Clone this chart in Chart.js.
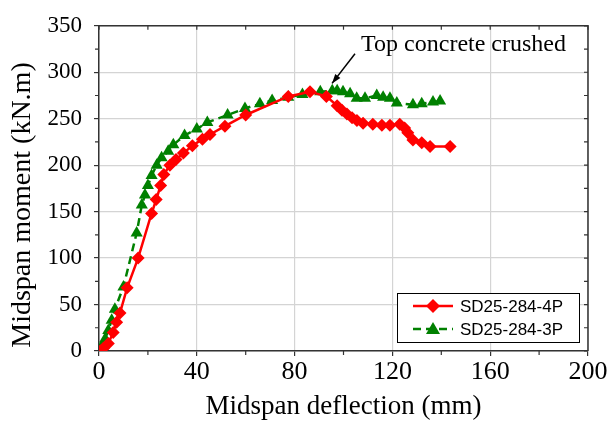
<!DOCTYPE html>
<html lang="en">
<head>
    <meta charset="UTF-8">
    <title>Midspan moment vs deflection</title>
    <script src="https://cdn.jsdelivr.net/npm/chart.js"></script>
    <style>
        body { margin: 0; background: #fff; }
        #wrap { width: 609px; height: 425px; }
    </style>
</head>
<body>
    <div id="wrap">
        <canvas id="myChart" width="609" height="425"></canvas>
    </div>
    <script>
        // SD25-284-4P (red, diamonds)
        let defl4P = [0.5, 1.8, 3.8, 5.8, 7.2, 8.6, 11.5, 16, 21.5, 23.4, 25.2, 26.5, 29, 31.5, 34.5, 38.2, 42.3, 45.4, 51.5, 60, 77.4, 86.3,
            93, 97.4, 99.4, 101.4, 103.5, 105.5, 108, 112, 115.7, 119, 123, 125, 126.3, 128.4, 132, 135.4, 143.6];
        let moment4P = [0, 3, 8, 20, 31, 41, 68, 100, 148, 163, 178, 190, 200, 206, 213, 221, 228, 233, 242, 254, 274, 279,
            274, 264, 259, 255, 251, 248, 245, 244, 243, 243, 244, 240, 235, 227, 224, 220, 220];

        // SD25-284-3P (green, triangles)
        let defl3P = [0.5, 1.1, 2.5, 3.8, 5.2, 6.5, 10, 15.4, 17.5, 18.8, 20, 21.5, 23.6, 25.6, 28.3, 30.4, 35, 40, 44.3, 52.6, 59.7, 65.8, 70.8, 77.4, 83.2,
            90.5, 95.4, 97.4, 99.8, 102.7, 105.4, 108.8, 113.6, 116.2, 119, 121.8, 128.4, 132, 136.6, 139.5];
        let moment3P = [1, 5, 13, 22, 33, 45, 69, 127, 157, 168, 178, 189, 200, 208, 215, 222, 232, 239, 246, 254, 261, 266, 269.5, 273, 276,
            279, 280, 280, 279, 277, 272, 272, 275, 273, 272, 267, 265, 266, 268, 269];

        let seriesNames = ["SD25-284-4P", "SD25-284-3P"];
        let xTicks = [0, 40, 80, 120, 160, 200];
        let yTicks = [0, 50, 100, 150, 200, 250, 300, 350];
        let xMinor = [20, 60, 100, 140, 180];
        let yMinor = [25, 75, 125, 175, 225, 275, 325];
        let xTitle = "Midspan deflection (mm)";
        let yTitle = "Midspan moment (kN.m)";
        let note = "Top concrete crushed";
        let noteAt = [107.2, 323];
        let arrowFrom = [104.7, 320];
        let arrowTo = [95.3, 288];

        const serif = "'Liberation Serif', 'Times New Roman', serif";
        const sans = "'Liberation Sans', Arial, sans-serif";
        const frameColor = '#333';

        function toPoints(xs, ys) {
            return xs.map((x, i) => ({ x: x, y: ys[i] }));
        }

        // frame on top/right, mirrored and minor ticks, y title, annotation, legend
        const extras = {
            id: 'extras',
            afterDatasetsDraw(chart) {
                const c = chart.ctx;
                const a = chart.chartArea;
                const xs = chart.scales.x, ys = chart.scales.y;
                c.save();
                c.strokeStyle = frameColor;
                c.lineWidth = 1.5;
                c.beginPath();
                c.moveTo(a.left, a.top); c.lineTo(a.right, a.top); c.lineTo(a.right, a.bottom);
                c.stroke();

                c.lineWidth = 1.2;
                c.beginPath();
                xTicks.concat(xMinor).forEach(v => {
                    const px = xs.getPixelForValue(v);
                    c.moveTo(px, a.top); c.lineTo(px, a.top + 4);
                });
                xMinor.forEach(v => {
                    const px = xs.getPixelForValue(v);
                    c.moveTo(px, a.bottom); c.lineTo(px, a.bottom + 4);
                });
                yTicks.concat(yMinor).forEach(v => {
                    const py = ys.getPixelForValue(v);
                    c.moveTo(a.right, py); c.lineTo(a.right - 4, py);
                });
                yMinor.forEach(v => {
                    const py = ys.getPixelForValue(v);
                    c.moveTo(a.left, py); c.lineTo(a.left - 4, py);
                });
                c.stroke();

                // y axis title
                c.save();
                c.translate(23, 205);
                c.rotate(-Math.PI / 2);
                c.fillStyle = '#000';
                c.font = '28px ' + serif;
                c.textAlign = 'center';
                c.textBaseline = 'middle';
                c.fillText(yTitle, 0, 0);
                c.restore();

                // annotation
                c.fillStyle = '#000';
                c.font = '24px ' + serif;
                c.textBaseline = 'alphabetic';
                c.textAlign = 'left';
                c.fillText(note, xs.getPixelForValue(noteAt[0]), ys.getPixelForValue(noteAt[1]));
                const tx = xs.getPixelForValue(arrowFrom[0]), ty = ys.getPixelForValue(arrowFrom[1]);
                const hx = xs.getPixelForValue(arrowTo[0]), hy = ys.getPixelForValue(arrowTo[1]);
                c.strokeStyle = '#000';
                c.lineWidth = 1.5;
                c.beginPath(); c.moveTo(tx, ty); c.lineTo(hx, hy); c.stroke();
                const ang = Math.atan2(hy - ty, hx - tx);
                c.beginPath();
                c.moveTo(hx, hy);
                c.lineTo(hx - 10 * Math.cos(ang - 0.33), hy - 10 * Math.sin(ang - 0.33));
                c.lineTo(hx - 10 * Math.cos(ang + 0.33), hy - 10 * Math.sin(ang + 0.33));
                c.closePath();
                c.fill();

                // legend
                const bw = 182, bh = 49;
                const bx = a.right - 9 - bw, by = a.bottom - 9 - bh;
                c.fillStyle = '#fff';
                c.fillRect(bx, by, bw, bh);
                c.strokeStyle = '#000';
                c.lineWidth = 1;
                c.strokeRect(bx + 0.5, by + 0.5, bw, bh);
                chart.data.datasets.forEach((ds, i) => {
                    const ry = by + 13 + i * 23;
                    c.strokeStyle = ds.borderColor;
                    c.lineWidth = 2.5;
                    c.setLineDash(ds.borderDash || []);
                    c.beginPath(); c.moveTo(bx + 16, ry); c.lineTo(bx + 56, ry); c.stroke();
                    c.setLineDash([]);
                    c.fillStyle = ds.pointBackgroundColor;
                    c.beginPath();
                    if (ds.pointStyle === 'rectRot') {
                        c.moveTo(bx + 36, ry - 7); c.lineTo(bx + 43, ry); c.lineTo(bx + 36, ry + 7); c.lineTo(bx + 29, ry);
                    } else {
                        c.moveTo(bx + 36, ry - 7); c.lineTo(bx + 43, ry + 5); c.lineTo(bx + 29, ry + 5);
                    }
                    c.closePath(); c.fill();
                    c.fillStyle = '#000';
                    c.font = '17px ' + sans;
                    c.textBaseline = 'middle';
                    c.fillText(ds.label, bx + 63, ry + 1);
                });
                c.restore();
            }
        };

        let ctx = document.getElementById('myChart').getContext('2d');
        let myChart = new Chart(ctx, {
            type: 'scatter',
            data: {
                datasets: [{
                    label: seriesNames[0],
                    data: toPoints(defl4P, moment4P),
                    showLine: true,
                    borderColor: '#ff0000',
                    borderWidth: 2.5,
                    pointStyle: 'rectRot',
                    pointRadius: 6.5,
                    pointBackgroundColor: '#ff0000',
                    pointBorderColor: '#ff0000',
                    pointBorderWidth: 0,
                    tension: 0
                }, {
                    label: seriesNames[1],
                    data: toPoints(defl3P, moment3P),
                    showLine: true,
                    borderColor: '#008000',
                    borderWidth: 2.5,
                    borderDash: [8, 5],
                    pointStyle: 'triangle',
                    pointRadius: 7,
                    pointBackgroundColor: '#008000',
                    pointBorderColor: '#008000',
                    pointBorderWidth: 0,
                    tension: 0
                }]
            },
            options: {
                responsive: false,
                animation: false,
                devicePixelRatio: 1,
                layout: { padding: { top: 18, right: 21, left: 0, bottom: 0 } },
                plugins: {
                    legend: { display: false },
                    tooltip: { enabled: false }
                },
                scales: {
                    x: {
                        type: 'linear',
                        min: 0, max: 200,
                        afterBuildTicks: s => { s.ticks = xTicks.map(v => ({ value: v })); },
                        afterFit: s => { s.height = 74; },
                        ticks: { color: '#000', font: { family: serif, size: 26 }, padding: 1, maxRotation: 0 },
                        grid: { color: '#d4d4d4', lineWidth: 1.2, tickLength: 5, tickColor: frameColor },
                        border: { color: frameColor, width: 1.5 },
                        title: { display: true, text: xTitle, color: '#000', font: { family: serif, size: 27 }, padding: { top: 0, bottom: 2 } }
                    },
                    y: {
                        type: 'linear',
                        min: 0, max: 350,
                        afterBuildTicks: s => { s.ticks = yTicks.map(v => ({ value: v })); },
                        afterFit: s => { s.width = 99; },
                        ticks: { color: '#000', font: { family: serif, size: 23 }, padding: 12 },
                        grid: { color: '#d4d4d4', lineWidth: 1.2, tickLength: 5, tickColor: frameColor },
                        border: { color: frameColor, width: 1.5 },
                        title: { display: false }
                    }
                }
            },
            plugins: [extras]
        });
    </script>
</body>
</html>
